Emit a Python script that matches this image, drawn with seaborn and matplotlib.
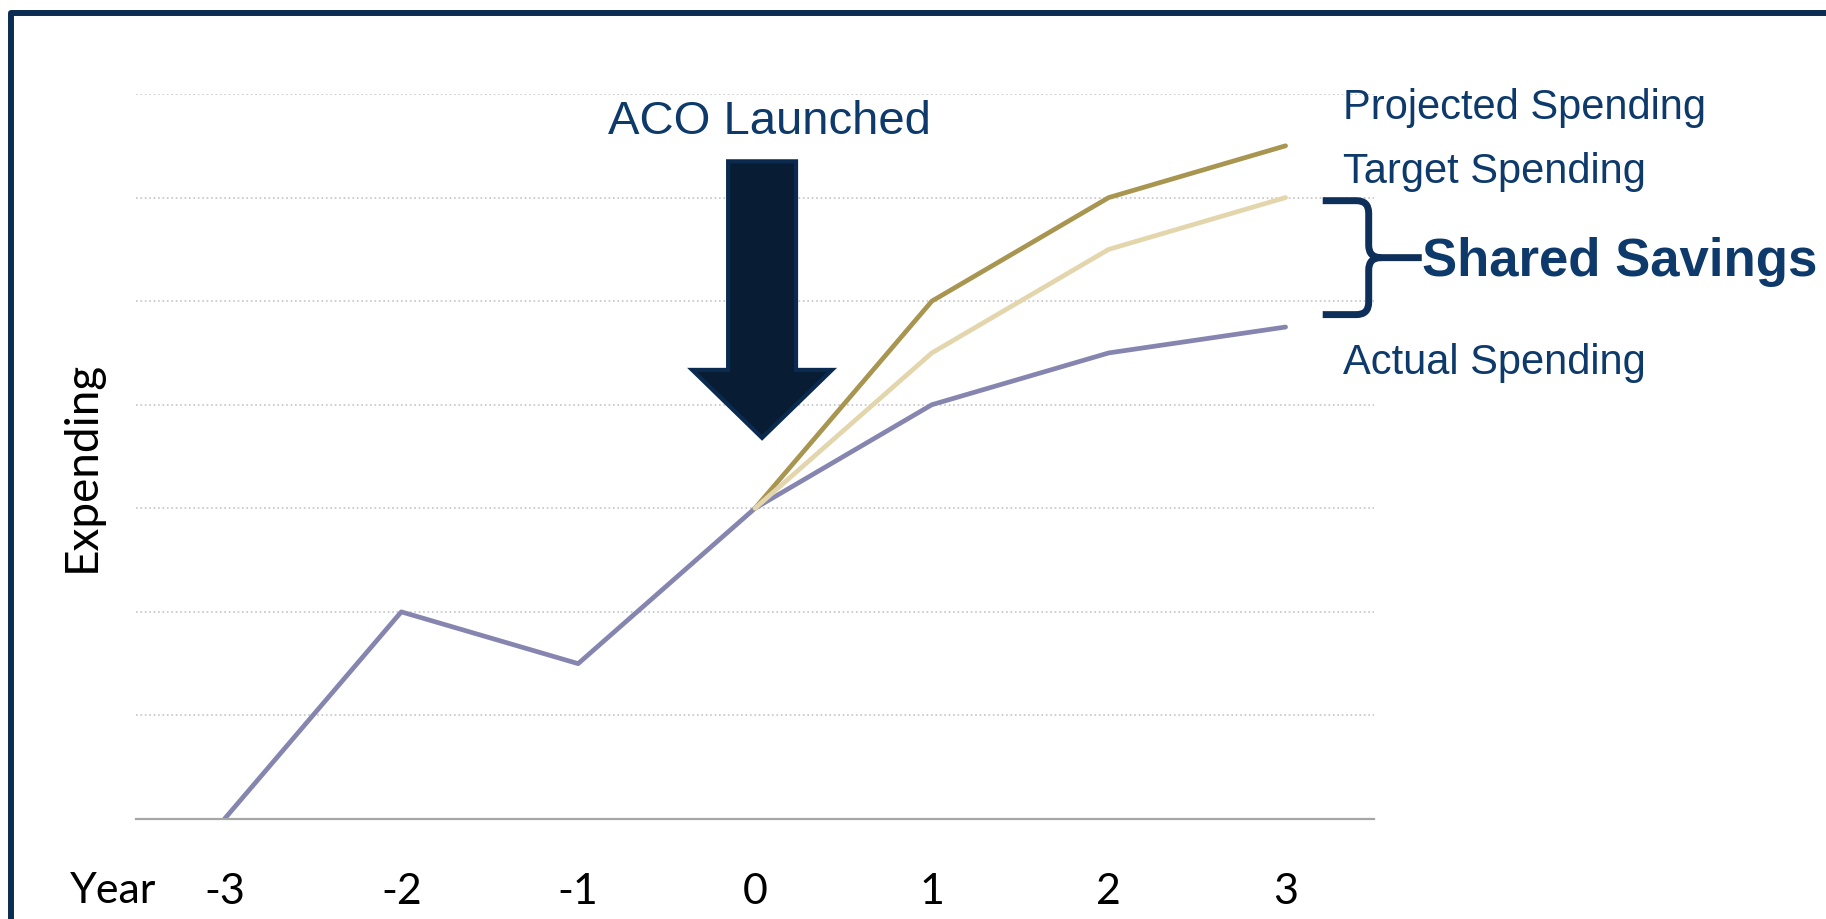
import matplotlib
matplotlib.use("Agg")
import matplotlib.pyplot as plt
import pandas as pd
import seaborn as sns
from matplotlib.patches import FancyArrow, PathPatch
from matplotlib.path import Path

sns.set_theme(style="white")
plt.rcParams["font.family"] = ["Liberation Sans", "DejaVu Sans"]

# data
years = [-3, -2, -1, 0, 1, 2, 3]
actual = [0, 2, 1.5, 3, 4, 4.5, 4.75]
proj_years = [0, 1, 2, 3]
projected = [3, 5, 6, 6.5]
target = [3, 4.5, 5.5, 6]
tick_labels = ["-3", "-2", "-1", "0", "1", "2", "3"]

NAVY = "#0d3a6b"
colors = {"Actual": "#8585b0", "Projected": "#a89550", "Target": "#e3d6ad"}

df = pd.concat([
    pd.DataFrame({"year": years, "value": actual, "series": "Actual"}),
    pd.DataFrame({"year": proj_years, "value": projected, "series": "Projected"}),
    pd.DataFrame({"year": proj_years, "value": target, "series": "Target"}),
])

fig = plt.figure(figsize=(18.26, 9.19), dpi=100)
ax = fig.add_axes([136 / 1826, 1 - 819 / 919, (1374 - 136) / 1826, (819 - 94) / 919])

sns.lineplot(data=df, x="year", y="value", hue="series",
             hue_order=["Actual", "Projected", "Target"], palette=colors,
             linewidth=3.4, legend=False, ax=ax, sort=False)

ax.set_xlim(-3.5, 3.5)
ax.set_ylim(0, 7)
ax.set_yticks(range(1, 8))
ax.yaxis.grid(True, linestyle=":", color="#c4c4cc", linewidth=1.2)
ax.xaxis.grid(False)
ax.tick_params(left=False, labelleft=False, bottom=False, pad=33)
ax.set_xticks(years)
ax.set_xticklabels(tick_labels, fontsize=31, family=["Lato", "DejaVu Sans"], color="black")
ax.set_xlabel("")
ax.set_ylabel("")
for s in ["top", "right", "left"]:
    ax.spines[s].set_visible(False)
ax.spines["bottom"].set_color("#a6a6a6")
ax.spines["bottom"].set_linewidth(1.6)

ax.annotate("Year", xy=(-3.63, 0), xycoords=("data", "axes fraction"),
            xytext=(0, -38), textcoords="offset points", ha="center", va="top",
            fontsize=31, family=["Lato", "DejaVu Sans"], color="black",
            annotation_clip=False)
fig.text(82 / 1826, 1 - 466 / 919, "Expending", rotation=90, ha="center", va="center",
         fontsize=33, family=["Lato", "DejaVu Sans"], color="black")

# launch arrow
ax.add_patch(FancyArrow(0.04, 6.35, 0, -2.67, width=0.384, head_width=0.79,
                        head_length=0.656, length_includes_head=True,
                        facecolor="#081d33", edgecolor="#0b2a50", linewidth=3,
                        clip_on=False, zorder=5))
ax.text(0.08, 6.73, "ACO Launched", ha="center", va="center", fontsize=34, color=NAVY)

# series labels
ax.text(3.325, 6.86, "Projected Spending", ha="left", va="center", fontsize=30,
        color=NAVY, clip_on=False)
ax.text(3.325, 6.25, "Target Spending", ha="left", va="center", fontsize=30,
        color=NAVY, clip_on=False)
ax.text(3.325, 4.40, "Actual Spending", ha="left", va="center", fontsize=30,
        color=NAVY, clip_on=False)

# brace between target and actual
yt, yb = 5.97, 4.87
ym = (yt + yb) / 2
x0, x1, x2 = 3.21, 3.47, 3.77
rx, ry = 0.07, 0.12
verts = [
    (x0, yt), (x1 - rx, yt),
    (x1, yt), (x1, yt - ry),
    (x1, ym + ry),
    (x1, ym), (x1 + rx, ym),
    (x2, ym),
    (x1 + rx, ym),
    (x1, ym), (x1, ym - ry),
    (x1, yb + ry),
    (x1, yb), (x1 - rx, yb),
    (x0, yb),
]
codes = [Path.MOVETO, Path.LINETO,
         Path.CURVE3, Path.CURVE3,
         Path.LINETO,
         Path.CURVE3, Path.CURVE3,
         Path.LINETO,
         Path.MOVETO,
         Path.CURVE3, Path.CURVE3,
         Path.LINETO,
         Path.CURVE3, Path.CURVE3,
         Path.LINETO]
ax.add_patch(PathPatch(Path(verts, codes), facecolor="none", edgecolor="#0d2f5a",
                       linewidth=5, clip_on=False, capstyle="butt", joinstyle="round"))
ax.text(x2, 5.38, "Shared Savings", ha="left", va="center", fontsize=38,
        fontweight="bold", color=NAVY, clip_on=False)

# slide frame (left and top edges)
fig.add_artist(plt.Line2D([11 / 1826, 11 / 1826, 1.01], [-0.01, 1 - 12.5 / 919, 1 - 12.5 / 919],
                          transform=fig.transFigure, color="#0c2d52", linewidth=4.3))

fig.savefig("out.png", dpi=100)
plt.close(fig)
